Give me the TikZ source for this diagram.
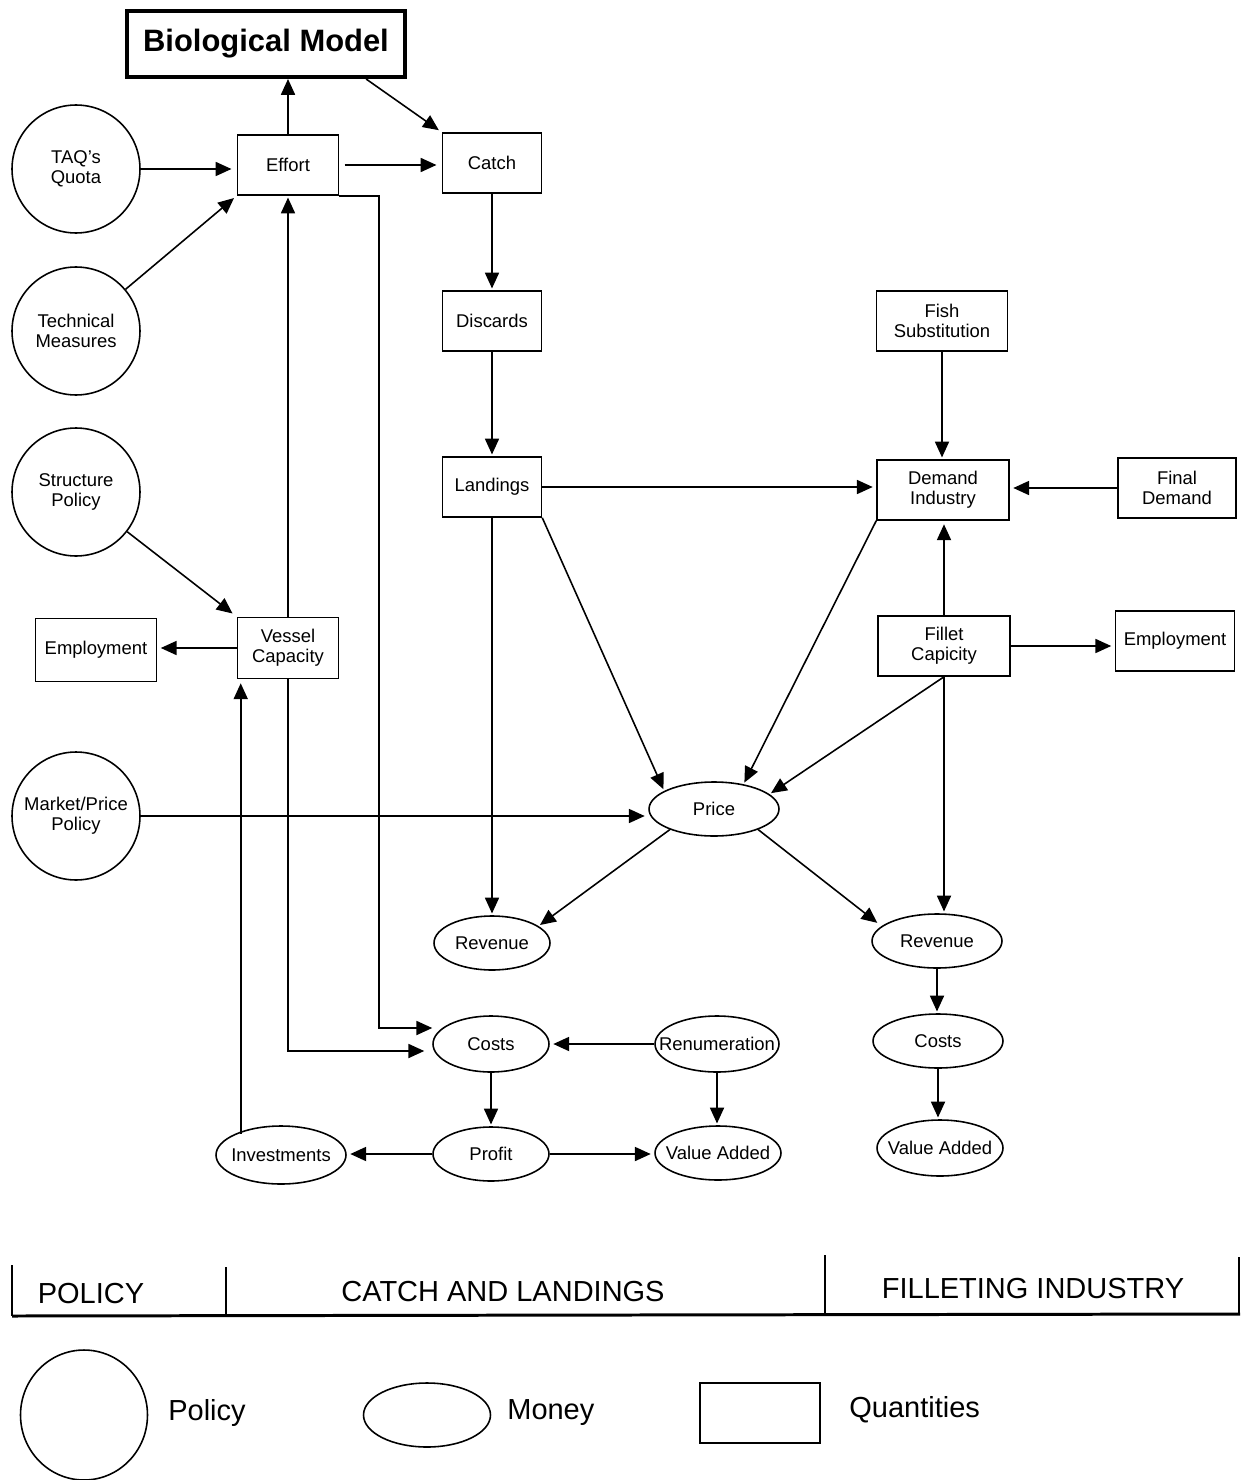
\documentclass[tikz,border=0pt]{standalone}
\usepackage{fontspec}
\setmainfont{Liberation Sans}
\usetikzlibrary{arrows.meta,shapes.geometric,calc}
\newcommand\lblfont{\fontsize{10.5}{11.2}\selectfont}
\newcommand\bigfont{\fontsize{16.5}{18}\selectfont}
\begin{document}
\begin{tikzpicture}[x=0.02cm,y=-0.02cm,
  lw/.style={line width=0.9pt},
  arr/.style={lw,-{Triangle[length=9pt,width=8pt]}},
  qbox/.style={draw,lw,rectangle,inner sep=1pt,align=center,font=\lblfont,minimum height=1.2cm},
  mell/.style={draw,lw,ellipse,inner sep=0pt,label={[font=\lblfont,align=center]center:#1}},
  pol/.style={draw,lw,circle,inner sep=0pt,minimum size=2.56cm,label={[font=\lblfont,align=center]center:#1}},
  hdr/.style={font=\bigfont,inner sep=0pt}]
\useasboundingbox (0,0) rectangle (1243,1480);

% Quantities
\node[draw,line width=2.3pt,minimum width=5.56cm,minimum height=1.32cm,font=\fontsize{17.6}{20}\selectfont\bfseries] (bio) at (266,44) {Biological Model};
\node[qbox,minimum width=2.02cm] (effort) at (288,165) {Effort};
\node[qbox,minimum width=1.98cm] (catch) at (492,163) {Catch};
\node[qbox,minimum width=1.98cm] (discards) at (492,321) {Discards};
\node[qbox,minimum width=1.98cm] (landings) at (492,487) {Landings};
\node[qbox,minimum width=2.62cm] (fishsub) at (942,321) {Fish\\Substitution};
\node[qbox,minimum width=2.64cm] (demand) at (943,490) {Demand\\Industry};
\node[qbox,minimum width=2.36cm] (finald) at (1177,488) {Final\\Demand};
\node[qbox,minimum width=2.64cm] (fillet) at (944,646) {Fillet\\Capicity};
\node[qbox,minimum width=2.38cm] (emplR) at (1175,641) {Employment};
\node[qbox,minimum width=2.42cm,minimum height=1.26cm] (emplL) at (96,650) {Employment};
\node[qbox,minimum width=2.02cm,minimum height=1.22cm] (vessel) at (288,648) {Vessel\\Capacity};

% Policy
\node[pol={TAQ{\char39}s\\Quota}] (taq) at (76,169) {};
\node[pol={Technical\\Measures}] (tech) at (76,331) {};
\node[pol={Structure\\Policy}] (struct) at (76,492) {};
\node[pol={Market/Price\\Policy}] (market) at (76,816) {};

% Money
\node[mell=Price,minimum width=2.6cm,minimum height=1.08cm] (price) at (714,809) {};
\node[mell=Revenue,minimum width=2.32cm,minimum height=1.08cm] (revL) at (492,943) {};
\node[mell=Revenue,minimum width=2.6cm,minimum height=1.08cm] (revR) at (937,941) {};
\node[mell=Costs,minimum width=2.32cm,minimum height=1.12cm] (costsL) at (491,1044) {};
\node[mell=Renumeration,minimum width=2.48cm,minimum height=1.12cm] (renum) at (717,1044) {};
\node[mell=Costs,minimum width=2.6cm,minimum height=1.08cm] (costsR) at (938,1041) {};
\node[mell=Investments,minimum width=2.6cm,minimum height=1.16cm] (invest) at (281,1155) {};
\node[mell=Profit,minimum width=2.32cm,minimum height=1.08cm] (profit) at (491,1154) {};
\node[mell=Value Added,minimum width=2.52cm,minimum height=1.08cm] (vaL) at (718,1153) {};
\node[mell=Value Added,minimum width=2.52cm,minimum height=1.12cm] (vaR) at (940,1148) {};

% Connectors
\draw[arr] (effort.north) -- (effort.north |- bio.south);
\draw[arr,shorten >=2pt] ($(bio.south)!0.71!(bio.south east)$) -- (catch.north west);
\draw[arr,shorten >=3pt] (taq.east) -- (effort.west |- taq.east);
\draw[arr,shorten <=3pt,shorten >=3pt] (effort.east) -- (catch.west |- effort.east);
\draw[arr,shorten >=2pt] (tech) -- (effort.south west);
\draw[arr] (effort.south east) -- ++(40,0) |- ($(costsL.west)+(0,-16)$);
\draw[arr,shorten >=1pt] (vessel.north) -- (effort.south);
\draw[arr] (vessel.south) |- ($(costsL.west)+(-8,7)$);
\coordinate (vs) at ($(vessel.south west)+(4,4)$);
\draw[arr] (invest.north west -| vs) -- (vs);
\draw[arr,shorten >=3pt] (struct) -- (vessel.north west);
\draw[arr,shorten >=2pt] (vessel.west) -- (vessel.west -| emplL.east);
\draw[arr,shorten >=1pt] (catch.south) -- (discards.north);
\draw[arr,shorten >=1pt] (discards.south) -- (landings.north);
\draw[arr,shorten >=2pt] (landings.east) -- (landings.east -| demand.west);
\draw[arr,shorten >=1pt] (fishsub.south) -- (fishsub.south |- demand.north);
\draw[arr,shorten >=2pt] (finald.west) -- (finald.west -| demand.east);
\draw[arr,shorten >=2pt] (fillet.north) -- (fillet.north |- demand.south);
\draw[arr,shorten >=2pt] (fillet.east) -- (fillet.east -| emplR.west);
\draw[arr,shorten >=1pt] (demand.south west) -- (price.40);
\draw[arr,shorten >=1pt] (landings.south east) -- (price.160);
\draw[arr,shorten >=1pt] (fillet.south) -- (price.15);
\draw[arr,shorten >=2pt] (market.east) -- (market.east -| price.west);
\draw[arr,shorten >=1pt] (landings.south) -- (revL.north);
\draw[arr,shorten >=1pt] (price.205) -- (revL.20);
\draw[arr,shorten >=3pt] (price.-25) -- (revR.165);
\draw[arr,shorten >=1pt] (fillet.south) -- (fillet.south |- revR.north);
\draw[arr,shorten >=1pt] (revR.south) -- (revR.south |- costsR.north);
\draw[arr,shorten >=1pt] (costsR.south) -- (costsR.south |- vaR.north);
\draw[arr,shorten >=2pt] (renum.west) -- (renum.west -| costsL.east);
\draw[arr,shorten >=1pt] (renum.south) -- (renum.south |- vaL.north);
\draw[arr,shorten >=1pt] (costsL.south) -- (costsL.south |- profit.north);
\draw[arr,shorten >=2pt] (profit.west) -- (profit.west -| invest.east);
\draw[arr,shorten >=2pt] (profit.east) -- (profit.east -| vaL.west);

% Section header
\draw[line width=1.7pt] (12,1316) -- (1240,1314);
\draw[line width=1pt] (12,1265) -- (12,1316);
\draw[line width=1pt] (226,1267) -- (226,1316);
\draw[line width=1pt] (825,1255) -- (825,1315);
\draw[line width=1pt] (1239,1257) -- (1239,1314);
\node[hdr] (hpol) at (91,1294) {POLICY};
\node[hdr] (hcatch) at (503,1292) {CATCH AND LANDINGS};
\node[hdr] (hfill) at (1033,1289) {FILLETING INDUSTRY};

% Legend
\node[draw,lw,ellipse,inner sep=0pt,minimum width=2.54cm,minimum height=2.6cm] (legP) at (84,1415) {};
\node[draw,lw,ellipse,inner sep=0pt,minimum width=2.54cm,minimum height=1.28cm] (legM) at (427,1415) {};
\node[draw,lw,rectangle,inner sep=0pt,minimum width=2.4cm,minimum height=1.2cm] (legQ) at (760,1413) {};
\node[hdr,anchor=west] (tP) at (168,1413) {Policy};
\node[hdr,anchor=west] (tM) at (507,1413) {Money};
\node[hdr,anchor=west] (tQ) at (849,1410) {Quantities};
\end{tikzpicture}
\end{document}
